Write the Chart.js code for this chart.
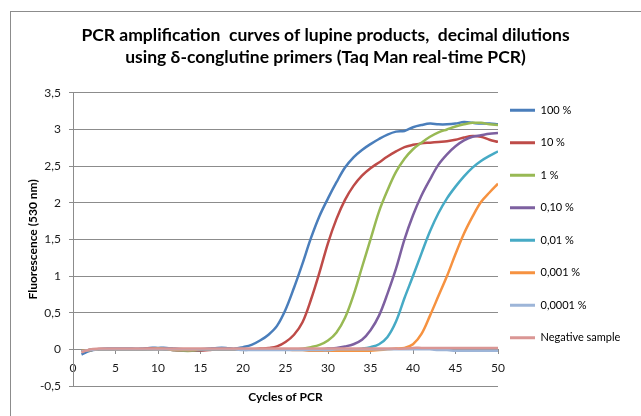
<!DOCTYPE html>
<html><head><meta charset="utf-8">
<script src="https://cdn.jsdelivr.net/npm/chart.js@4"></script>
<style>
html,body{margin:0;padding:0;background:#fff;overflow:hidden;}
#wrap{position:relative;width:641px;height:416px;overflow:hidden;}
#frame{position:absolute;left:10px;top:11px;width:700px;height:500px;border-left:1px solid #8c8c8c;border-top:1px solid #8c8c8c;pointer-events:none;}
canvas{position:absolute;left:0;top:0;}
</style></head><body>
<div id="wrap"><canvas id="c" width="641" height="416"></canvas><div id="frame"></div></div>
<script>
const titleLines = ['PCR amplification  curves of lupine products,  decimal dilutions', 'using δ-conglutine primers (Taq Man real-time PCR)'];
const xTitle = 'Cycles of PCR';
const yTitle = 'Fluorescence (530 nm)';
const cycles = [1,2,3,4,5,6,7,8,9,10,11,12,13,14,15,16,17,18,19,20,21,22,23,24,25,26,27,28,29,30,31,32,33,34,35,36,37,38,39,40,41,42,43,44,45,46,47,48,49,50];
const xTickLabels = ['0','5','10','15','20','25','30','35','40','45','50'];
const yTickLabels = ['-0,5','0','0,5','1','1,5','2','2,5','3','3,5'];
const seriesNames = ['100 %','10 %','1 %','0,10 %','0,01 %','0,001 %','0,0001 %','Negative sample'];
const s100 = [-0.07,-0.02,0.00,0.01,0.01,0.01,0.01,0.01,0.02,0.02, 0.02,0.01,0.00,-0.01,0.00,0.01,0.02,0.02,0.01,0.03, 0.06,0.12,0.20,0.32,0.54,0.84,1.17,1.52,1.82,2.06, 2.28,2.48,2.62,2.72,2.80,2.87,2.93,2.97,2.98,3.03, 3.06,3.08,3.07,3.07,3.08,3.10,3.09,3.08,3.08,3.07];
const s10 = [-0.03,-0.01,0.00,0.00,0.00,0.00,0.00,0.00,0.01,0.01, 0.00,-0.01,-0.02,-0.02,-0.02,-0.01,0.00,0.00,0.00,0.00, 0.00,0.01,0.02,0.04,0.10,0.20,0.37,0.68,1.05,1.45, 1.78,2.04,2.23,2.37,2.47,2.55,2.63,2.70,2.76,2.79, 2.81,2.82,2.83,2.84,2.86,2.89,2.91,2.90,2.86,2.83];
const s1 = [-0.02,-0.01,0.00,0.00,0.00,0.00,0.00,0.00,0.00,0.01, 0.00,-0.01,-0.02,-0.02,-0.01,0.00,0.00,0.00,0.00,0.00, 0.00,0.00,0.00,0.00,0.00,0.00,0.01,0.03,0.06,0.12, 0.23,0.43,0.74,1.12,1.50,1.88,2.17,2.42,2.60,2.73, 2.82,2.90,2.96,3.00,3.04,3.07,3.09,3.09,3.07,3.06];
const s01 = [-0.02,-0.01,0.00,0.00,0.00,0.00,0.00,0.00,0.00,0.00, 0.00,-0.01,-0.01,-0.01,-0.01,0.00,0.00,0.00,0.00,0.00, 0.00,0.00,0.00,0.00,0.00,0.00,0.00,0.00,0.00,0.01, 0.02,0.04,0.07,0.13,0.26,0.46,0.76,1.10,1.50,1.83, 2.10,2.32,2.52,2.66,2.77,2.85,2.90,2.92,2.94,2.95];
const s001 = [-0.02,-0.01,0.00,0.00,0.00,0.00,0.00,0.00,0.00,0.00, 0.00,-0.01,-0.01,-0.01,0.00,0.00,0.00,0.00,0.00,0.00, 0.00,0.00,0.00,0.00,0.00,0.00,0.00,-0.01,-0.01,-0.01, -0.01,-0.01,0.00,0.01,0.03,0.07,0.17,0.38,0.70,1.00, 1.31,1.61,1.86,2.06,2.22,2.36,2.48,2.57,2.64,2.70];
const s0001 = [-0.02,-0.01,0.00,0.00,0.00,0.00,0.00,0.00,0.00,0.00, 0.00,-0.01,-0.01,-0.01,0.00,0.00,0.00,0.00,0.00,0.00, 0.00,0.00,0.00,0.00,0.00,-0.01,-0.01,-0.02,-0.02,-0.02, -0.02,-0.02,-0.02,-0.02,-0.02,-0.01,0.00,0.01,0.02,0.07, 0.21,0.46,0.73,1.00,1.30,1.58,1.81,2.01,2.14,2.26];
const s00001 = [-0.03,-0.01,0.00,0.00,0.00,0.00,0.00,0.00,0.00,0.00, 0.00,0.00,0.00,0.00,0.00,0.00,0.00,0.00,0.00,-0.01, -0.01,-0.01,-0.01,-0.01,-0.01,-0.01,-0.01,-0.01,-0.01,-0.01, 0.00,0.00,0.00,0.00,0.00,0.00,0.00,0.00,0.00,0.00, 0.00,0.00,-0.01,-0.01,-0.02,-0.02,-0.02,-0.02,-0.02,-0.02];
const sNeg = [-0.04,0.00,0.01,0.01,0.01,0.01,0.01,0.01,0.01,0.01, 0.01,0.01,0.01,0.01,0.01,0.01,0.01,0.01,0.01,0.01, 0.01,0.01,0.01,0.01,0.01,0.01,0.01,0.01,0.01,0.01, 0.01,0.01,0.01,0.01,0.01,0.01,0.01,0.01,0.01,0.02, 0.02,0.02,0.02,0.02,0.02,0.02,0.02,0.02,0.02,0.02];
const seriesValues = [s100, s10, s1, s01, s001, s0001, s00001, sNeg];
const seriesColors = ['#4A7EBB','#BE4B48','#98B954','#7D60A0','#46AAC5','#F69240','#9DB5D8','#DA9694'];

Chart.defaults.font.family = 'Lato, "Liberation Sans", sans-serif';
Chart.defaults.color = '#1a1a1a';
const gridCol = '#8c8c8c';

new Chart(document.getElementById('c'), {
  type: 'line',
  data: {
    datasets: seriesNames.map((name, i) => ({
      label: name,
      data: seriesValues[i].map((v, j) => ({x: cycles[j], y: v})),
      borderColor: seriesColors[i],
      backgroundColor: seriesColors[i],
      borderWidth: 2.5,
      pointRadius: 0,
      tension: 0.35,
      fill: false,
      xAxisID: 'x',
      yAxisID: 'y',
      order: seriesNames.length - i
    }))
  },
  options: {
    responsive: false,
    animation: false,
    devicePixelRatio: 1,
    layout: {padding: {top: 14, left: 22, right: 12, bottom: 0}},
    plugins: {
      title: {
        display: true, text: titleLines, color: '#000',
        font: {size: 17.5, weight: 'bold', lineHeight: 21.6 / 17.5},
        padding: {top: 11, bottom: 24.6}
      },
      legend: {
        position: 'right', align: 'start', fullSize: false, maxWidth: 131,
        labels: {
          boxWidth: 25, boxHeight: 3, padding: 12, color: '#000',
          font: {size: 11, lineHeight: 20.5 / 11},
          generateLabels: (chart) => chart.data.datasets.map((ds, i) => ({
            text: [ds.label], fillStyle: ds.borderColor, strokeStyle: ds.borderColor,
            lineWidth: 0, hidden: false, datasetIndex: i, fontColor: '#000'
          }))
        }
      },
      tooltip: {enabled: false}
    },
    scales: {
      x: {
        type: 'linear', position: {y: 0}, min: 0, max: 50,
        ticks: {stepSize: 5, padding: 8, font: {size: 12}, maxRotation: 0, autoSkip: false,
          callback: (v, i) => xTickLabels[i]},
        grid: {drawOnChartArea: false, tickLength: 4, color: gridCol},
        border: {color: gridCol},
        afterFit: (s) => { s.height = 0; }
      },
      x2: {
        type: 'linear', position: 'bottom', min: 0, max: 50,
        ticks: {display: false}, grid: {display: false}, border: {display: false},
        title: {display: true, text: xTitle, color: '#000', font: {size: 12, weight: 'bold'}, padding: {top: 0, bottom: 11.8}},
        afterFit: (s) => { s.height = 30; }
      },
      y: {
        type: 'linear', position: 'left', min: -0.5, max: 3.5,
        ticks: {stepSize: 0.5, padding: 8, font: {size: 12}, callback: (v, i) => yTickLabels[i]},
        grid: {color: gridCol, tickLength: 4},
        border: {color: gridCol},
        title: {display: true, text: yTitle, color: '#000', font: {size: 12, weight: 'bold'}, padding: {top: 4.4, bottom: 0}},
        afterFit: (s) => { s.width = 51; }
      }
    }
  }
});
</script>
</body></html>
